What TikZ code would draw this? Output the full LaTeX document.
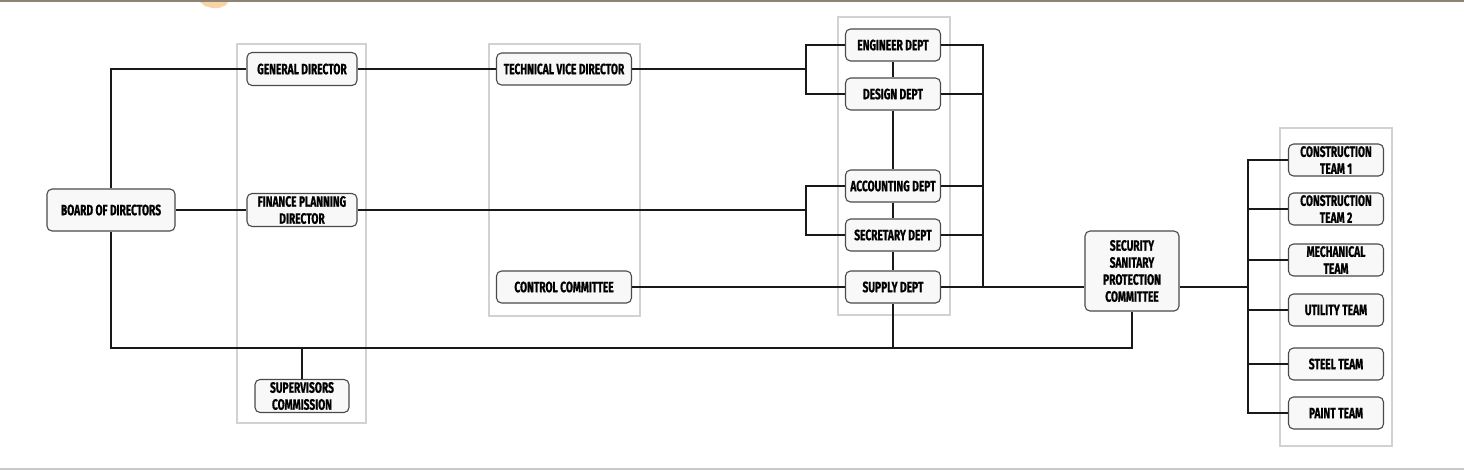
\documentclass[tikz,border=0pt]{standalone}
\usepackage{fontspec}
\setmainfont{Fira Sans}[FakeStretch=0.68, BoldFeatures={FakeBold=0.8}]
\usepackage{xcolor}
\usetikzlibrary{positioning}

\definecolor{boxline}{HTML}{4A4A4A}
\definecolor{boxfill}{HTML}{F8F8F8}
\definecolor{panelline}{HTML}{D2D2D2}
\definecolor{topline}{HTML}{8C8373}
\definecolor{bottomline}{HTML}{C9C9C9}
\definecolor{blob}{HTML}{F8D3A6}

\begin{document}
\begin{tikzpicture}[x=1pt,y=-1pt,
  unit/.style={rectangle, rounded corners=5pt, draw=boxline, fill=boxfill, line width=1.1pt,
    minimum width=95pt, minimum height=32pt, inner sep=1pt, align=center,
    font=\fontsize{15}{17}\selectfont\bfseries},
  panel/.style={draw=panelline, line width=1.2pt},
  link/.style={line width=1.8pt, draw=black!90}]
\useasboundingbox (0,0) rectangle (1464,472);

%Frame
\draw[topline, line width=2pt] (0,1) -- (1464,1);
\draw[bottomline, line width=2pt] (0,469) -- (1464,469);
\fill[blob] (200,2) -- (228,2) -- (226,5) -- (219,8) -- (212,8) -- (205,6) -- cycle;

%Panels
\draw[panel] (237,44) rectangle (366,423);
\draw[panel] (489,44) rectangle (640,316);
\draw[panel] (838,17) rectangle (950,315);
\draw[panel] (1280,128) rectangle (1392,446);

%Nodes
\node[unit, minimum width=128pt, minimum height=42pt] (bod) at (111,210) {BOARD OF DIRECTORS};
\node[unit, minimum width=110pt, minimum height=33pt] (gd) at (302,69) {GENERAL DIRECTOR};
\node[unit, minimum width=110pt, minimum height=33pt] (fpd) at (302,210) {FINANCE PLANNING\\DIRECTOR};
\node[unit, minimum width=94pt, minimum height=33pt] (sc) at (302,396) {SUPERVISORS\\COMMISSION};
\node[unit, minimum width=135pt] (tvd) at (564,69) {TECHNICAL VICE DIRECTOR};
\node[unit, minimum width=135pt] (cc) at (564,287) {CONTROL COMMITTEE};
\node[unit] (eng) at (893,45) {ENGINEER DEPT};
\node[unit] (des) at (893,94) {DESIGN DEPT};
\node[unit] (acc) at (893,186) {ACCOUNTING DEPT};
\node[unit] (sec) at (893,235) {SECRETARY DEPT};
\node[unit] (sup) at (893,287) {SUPPLY DEPT};
\node[unit, minimum width=94pt, minimum height=80pt] (spc) at (1132,271) {SECURITY\\SANITARY\\PROTECTION\\COMMITTEE};
\node[unit] (t1) at (1336,160) {CONSTRUCTION\\TEAM 1};
\node[unit] (t2) at (1336,209) {CONSTRUCTION\\TEAM 2};
\node[unit] (t3) at (1336,260) {MECHANICAL\\TEAM};
\node[unit] (t4) at (1336,310) {UTILITY TEAM};
\node[unit] (t5) at (1336,364) {STEEL TEAM};
\node[unit] (t6) at (1336,413) {PAINT TEAM};

%Buses
\coordinate (bus) at (0,348);
\coordinate (lb) at (806,0);
\coordinate (rb) at (983,0);
\coordinate (tb) at (1248,0);

%Lines
\draw[link] (gd.west) -| (bod.north);
\draw[link] (bod.south) -- (bod.south |- bus) -- (spc.south |- bus) -- (spc.south);
\draw[link] (bod) -- (fpd);
\draw[link] (sc.north) -- (sc.north |- bus);
\draw[link] (gd) -- (tvd);
\draw[link] (tvd.east) -- (tvd.east -| lb);
\draw[link] (eng.west) -- (eng.west -| lb) -- (des.west -| lb) -- (des.west);
\draw[link] (fpd.east) -- (fpd.east -| lb);
\draw[link] (acc.west) -- (acc.west -| lb) -- (sec.west -| lb) -- (sec.west);
\draw[link] (cc) -- (sup);
\draw[link] (eng) -- (des) -- (acc) -- (sec) -- (sup);
\draw[link] (sup.south) -- (sup.south |- bus);
\draw[link] (eng.east) -- (eng.east -| rb) -- (sup.east -| rb) -- (sup.east);
\foreach \d in {des,acc,sec}
  \draw[link] (\d.east) -- (\d.east -| rb);
\draw[link] (sup.east -| rb) -- (sup.east -| spc.west);
\draw[link] (sup.east -| spc.east) -- (sup.east -| tb);
\draw[link] (t1.west) -- (t1.west -| tb) -- (t6.west -| tb) -- (t6.west);
\foreach \t in {t2,t3,t4,t5}
  \draw[link] (\t.west) -- (\t.west -| tb);

\end{tikzpicture}
\end{document}
